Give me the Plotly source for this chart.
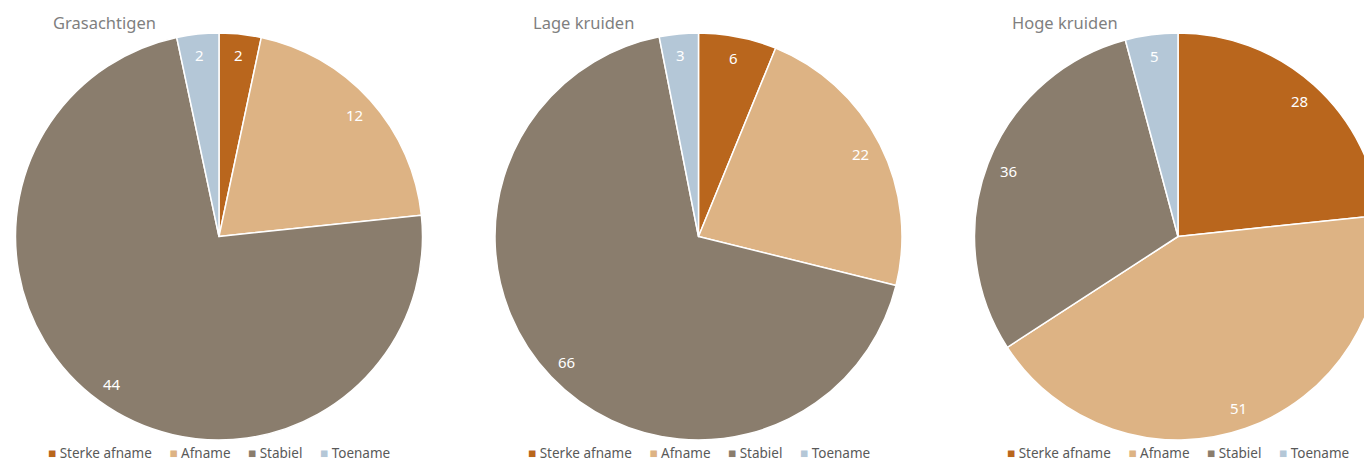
import math
import plotly.graph_objects as go

categories = ["Sterke afname", "Afname", "Stabiel", "Toename"]
titles = ["Grasachtigen", "Lage kruiden", "Hoge kruiden"]
grasachtigen = [2, 12, 44, 2]
lage_kruiden = [6, 22, 66, 3]
hoge_kruiden = [28, 51, 36, 5]
series = [grasachtigen, lage_kruiden, hoge_kruiden]

colors = ["#B9661D", "#DDB384", "#8A7D6D", "#B4C7D7"]

W, H = 1390, 462
centers_x = [219, 698.5, 1178]
cy = 236.5
R = 203.5
LABEL_R = 182
FONT = "Noto Sans"

fig = go.Figure()
for i, (vals, title) in enumerate(zip(series, titles)):
    cx = centers_x[i]
    fig.add_trace(go.Pie(
        labels=categories,
        values=vals,
        sort=False,
        direction="clockwise",
        rotation=0,
        marker=dict(colors=colors, line=dict(color="white", width=1.5)),
        textinfo="none",
        domain=dict(x=[(cx - R) / W, (cx + R) / W],
                    y=[(H - (cy + R)) / H, (H - (cy - R)) / H]),
        showlegend=False,
        hoverinfo="label+value",
    ))
    # value labels placed near the outer edge of each slice
    total = sum(vals)
    cum = 0
    for v in vals:
        theta = 2 * math.pi * (cum + v / 2) / total
        cum += v
        px = cx + LABEL_R * math.sin(theta)
        py = cy - LABEL_R * math.cos(theta)
        fig.add_annotation(
            text=str(v), xref="paper", yref="paper",
            x=px / W, y=(H - py) / H, xanchor="center", yanchor="middle",
            showarrow=False, font=dict(family=FONT, size=15, color="white"),
        )
    # title
    fig.add_annotation(
        text=title, xref="paper", yref="paper",
        x=(cx - 168) / W, y=(H - 22) / H, xanchor="left", yanchor="middle",
        showarrow=False, font=dict(family=FONT, size=16.5, color="#7F7F7F"),
    )
    # legend line
    gap = "\u00a0" * 5
    parts = [f'<span style="color:{c}">■</span>\u00a0{lab}' for c, lab in zip(colors, categories)]
    fig.add_annotation(
        text=gap.join(parts), xref="paper", yref="paper",
        x=cx / W, y=(H - 453) / H, xanchor="center", yanchor="middle",
        showarrow=False, font=dict(family=FONT, size=13.5, color="#595959"),
    )

fig.update_layout(
    width=W, height=H,
    margin=dict(l=0, r=0, t=0, b=0),
    paper_bgcolor="white",
    showlegend=False,
)

fig.write_html("out.html", config={"displayModeBar": False},
               post_script="document.body.style.margin='0';document.body.style.overflow='hidden';document.documentElement.style.overflow='hidden';")
